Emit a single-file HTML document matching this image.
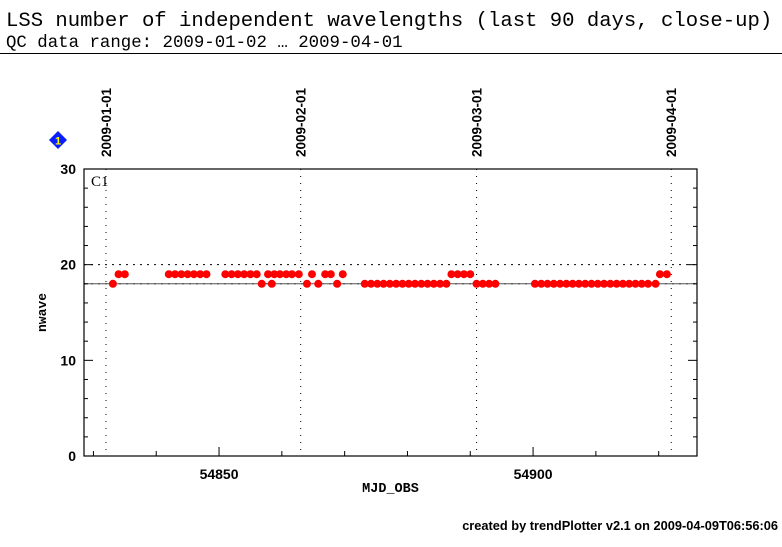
<!DOCTYPE html>
<html><head><meta charset="utf-8"><style>
body{margin:0;background:#fff;width:782px;height:542px;overflow:hidden;font-family:"Liberation Sans",sans-serif}
</style></head><body>
<svg id="chart" width="782" height="542" xmlns="http://www.w3.org/2000/svg">
<text x="6" y="26" font-family="Liberation Mono, monospace" font-size="20.6" fill="#000">LSS number of independent wavelengths (last 90 days, close-up)</text>
<text x="6" y="47" font-family="Liberation Mono, monospace" font-size="17.4" fill="#000">QC data range: 2009-01-02 … 2009-04-01</text>
<line x1="0" y1="53.5" x2="782" y2="53.5" stroke="#000" stroke-width="1"/>
<g>
<polygon points="58,131 67,140 58,149 49,140" fill="#0a1fff"/>
<text x="58" y="144.5" text-anchor="middle" font-size="11" font-weight="bold" fill="#ff0">1</text>
</g>
<g id="plot"></g>
<text x="778" y="530" text-anchor="end" font-size="12.8" font-weight="bold" fill="#000">created by trendPlotter v2.1 on 2009-04-09T06:56:06</text>
</svg>
<script>
const yTicks=[0,10,20,30];
const xTicks=[54850,54900];
const dateLabels=["2009-01-01","2009-02-01","2009-03-01","2009-04-01"];
const dateMjd=[54832,54863,54891,54922];
const refLines=[20,18];
const mjd=[54833.1,54834,54835,54842,54843,54844,54845,54846,54847,54848,54851,54852,54853,54854,54855,54856,54856.8,54857.8,54858.4,54858.8,54859.7,54860.7,54861.6,54862.7,54864,54864.8,54865.8,54866.9,54867.8,54868.8,54869.7,54873.2,54874.2,54875.2,54876.2,54877.2,54878.2,54879.2,54880.2,54881.2,54882.2,54883.2,54884.2,54885.2,54886.2,54887,54888,54889,54890,54891,54892,54893,54894,54900.3,54901.3,54902.3,54903.3,54904.3,54905.3,54906.3,54907.3,54908.3,54909.3,54910.3,54911.3,54912.3,54913.3,54914.3,54915.3,54916.3,54917.3,54918.3,54919.5,54920.2,54921.3];
const nwave=[18,19,19,19,19,19,19,19,19,19,19,19,19,19,19,19,18,19,18,19,19,19,19,19,18,19,18,19,19,18,19,18,18,18,18,18,18,18,18,18,18,18,18,18,18,19,19,19,19,18,18,18,18,18,18,18,18,18,18,18,18,18,18,18,18,18,18,18,18,18,18,18,18,19,19];
const L=84,R=697,T=169,B=456,xMin=54828.5,xMax=54926.1,yMin=0,yMax=30;
const X=v=>L+(v-xMin)/(xMax-xMin)*(R-L);
const Y=v=>B-(v-yMin)/(yMax-yMin)*(B-T);
const NS="http://www.w3.org/2000/svg";
const g=document.getElementById('plot');
function mk(t,a,p){const e=document.createElementNS(NS,t);for(const k in a)e.setAttribute(k,a[k]);(p||g).appendChild(e);return e;}
dateMjd.forEach((m,i)=>{
 const l=mk('line',{x1:X(m),x2:X(m),y1:T,y2:B,stroke:'#000','stroke-width':1,'stroke-dasharray':'1,6'});
 
 
 const t=mk('text',{x:0,y:0,transform:`translate(${X(m)+5},157) rotate(-90)`,'font-size':13.5,'font-weight':'bold',fill:'#000'});
 t.textContent=dateLabels[i];
 
 
});
refLines.forEach((v,i)=>{
 const l=mk('line',{x1:L,x2:R,y1:Y(v),y2:Y(v),stroke:'#000','stroke-width':1,'stroke-dasharray':'2,5'});
 
 
});
const med=mk('line',{x1:L,x2:R,y1:Y(18),y2:Y(18),stroke:'#555','stroke-width':1});


mjd.forEach((m,i)=>{
 const c=mk('circle',{cx:X(m),cy:Y(nwave[i]),r:4,fill:'#f00'});
 
 
});
const f=mk('rect',{x:L,y:T,width:R-L,height:B-T,fill:'none',stroke:'#000','stroke-width':1.2});


yTicks.forEach(v=>{
 mk('line',{x1:L,x2:L+9,y1:Y(v),y2:Y(v),stroke:'#000'});
 mk('line',{x1:R,x2:R-9,y1:Y(v),y2:Y(v),stroke:'#000'});
 const t=mk('text',{x:L-8,y:Y(v)+5,'text-anchor':'end','font-size':14,'font-weight':'bold'});
 t.textContent=v;
 
 
});
for(let v=2;v<30;v+=2){if(v%10){mk('line',{x1:L,x2:L+4,y1:Y(v),y2:Y(v),stroke:'#000'});mk('line',{x1:R,x2:R-4,y1:Y(v),y2:Y(v),stroke:'#000'});}}
for(let v=54830;v<=54920;v+=10){const big=v%50===0;mk('line',{x1:X(v),x2:X(v),y1:B,y2:B-(big?9:5),stroke:'#000'});}
xTicks.forEach(v=>{
 const t=mk('text',{x:X(v),y:B+23,'text-anchor':'middle','font-size':14,'font-weight':'bold'});
 t.textContent=v;
 
 
});
const xt=mk('text',{x:(L+R)/2,y:B+36,'text-anchor':'middle','font-size':13.5,'font-weight':'bold','font-family':'Liberation Mono, monospace'});
xt.textContent='MJD_OBS';


const yt=mk('text',{x:0,y:0,transform:`translate(46,${(T+B)/2}) rotate(-90)`,'text-anchor':'middle','font-size':13,'font-weight':'bold','font-family':'Liberation Mono, monospace'});
yt.textContent='nwave';


const c1=mk('text',{x:L+7,y:T+17,'font-size':15,'font-family':'Liberation Serif, serif'});
c1.textContent='C1';


</script>
</body></html>
